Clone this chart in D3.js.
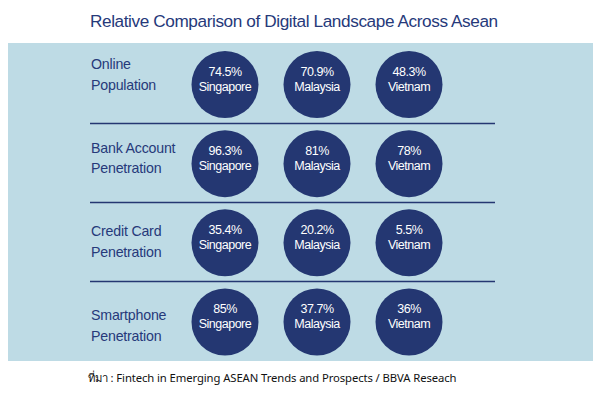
<!DOCTYPE html>
<html>
<head>
<meta charset="utf-8">
<script src="https://cdn.jsdelivr.net/npm/d3@7"></script>
<style>
  html, body { margin: 0; padding: 0; background: #ffffff; }
  svg { display: block; }
</style>
</head>
<body>
<div id="chart"></div>
<script>
// ---- data ----
const categories = ["Online Population", "Bank Account Penetration", "Credit Card Penetration", "Smartphone Penetration"];
const categoryLines = [["Online", "Population"], ["Bank Account", "Penetration"], ["Credit Card", "Penetration"], ["Smartphone", "Penetration"]];
const countries = ["Singapore", "Malaysia", "Vietnam"];
const onlinePopulation = [74.5, 70.9, 48.3];
const bankAccount = [96.3, 81, 78];
const creditCard = [35.4, 20.2, 5.5];
const smartphone = [85, 37.7, 36];
const seriesValues = [onlinePopulation, bankAccount, creditCard, smartphone];
const title = "Relative Comparison of Digital Landscape Across Asean";
const source = "ที่มา : Fintech in Emerging ASEAN Trends and Prospects / BBVA Reseach";

// ---- layout ----
const W = 614, H = 400;
const navy = "#243772";
const panel = "#bedbe5";

const svg = d3.select("#chart").append("svg").attr("width", W).attr("height", H);

svg.append("text")
  .attr("x", 90).attr("y", 27)
  .attr("font-family", "Liberation Sans, Arial, sans-serif")
  .attr("font-size", 17.2)
  .attr("letter-spacing", -0.4)
  .attr("fill", "#26397a")
  .text(title);

svg.append("rect")
  .attr("x", 8).attr("y", 43).attr("width", 585).attr("height", 318)
  .attr("fill", panel);

const x = d3.scalePoint().domain(countries).range([225, 409]);
const y = d3.scalePoint().domain(categories).range([84.5, 322]);
const yLabel = d3.scalePoint().domain(categories).range([69, 320]);
const step = y.step();

// separators
svg.selectAll("line.sep")
  .data(categories.slice(0, -1))
  .join("line")
  .attr("class", "sep")
  .attr("x1", 90).attr("x2", 495)
  .attr("y1", d => Math.round(y(d) + step / 2 - 1) + 0.5)
  .attr("y2", d => Math.round(y(d) + step / 2 - 1) + 0.5)
  .attr("stroke", navy).attr("stroke-width", 1.3);

// row labels
const labels = svg.selectAll("text.lab")
  .data(categories)
  .join("text")
  .attr("class", "lab")
  .attr("font-family", "Liberation Sans, Arial, sans-serif")
  .attr("font-size", 14.2)
  .attr("letter-spacing", -0.2)
  .attr("fill", "#26397a");
labels.each(function(d, i) {
  const t = d3.select(this);
  categoryLines[i].forEach((ln, k) => {
    t.append("tspan").attr("x", 91).attr("y", yLabel(d) + k * 20.5).text(ln);
  });
});

// circles
const cells = [];
categories.forEach((c, i) => {
  countries.forEach((k, j) => cells.push({ cat: c, country: k, value: seriesValues[i][j] }));
});

const g = svg.selectAll("g.cell")
  .data(cells)
  .join("g")
  .attr("class", "cell")
  .attr("transform", d => `translate(${x(d.country)},${y(d.cat)})`);

g.append("circle").attr("r", 33.5).attr("fill", navy);

g.append("text")
  .attr("text-anchor", "middle")
  .attr("y", -9)
  .attr("font-family", "Liberation Sans, Arial, sans-serif")
  .attr("font-size", 12.5)
  .attr("letter-spacing", -0.45)
  .attr("fill", "#ffffff")
  .text(d => d.value + "%");

g.append("text")
  .attr("text-anchor", "middle")
  .attr("y", 6)
  .attr("font-family", "Liberation Sans, Arial, sans-serif")
  .attr("font-size", 12.5)
  .attr("letter-spacing", -0.5)
  .attr("fill", "#ffffff")
  .text(d => d.country);

svg.append("text")
  .attr("x", 88).attr("y", 382)
  .attr("font-family", "Noto Sans, DejaVu Sans, sans-serif")
  .attr("font-size", 11.3)
  .attr("letter-spacing", -0.1)
  .attr("fill", "#111")
  .text(source);
</script>
</body>
</html>
